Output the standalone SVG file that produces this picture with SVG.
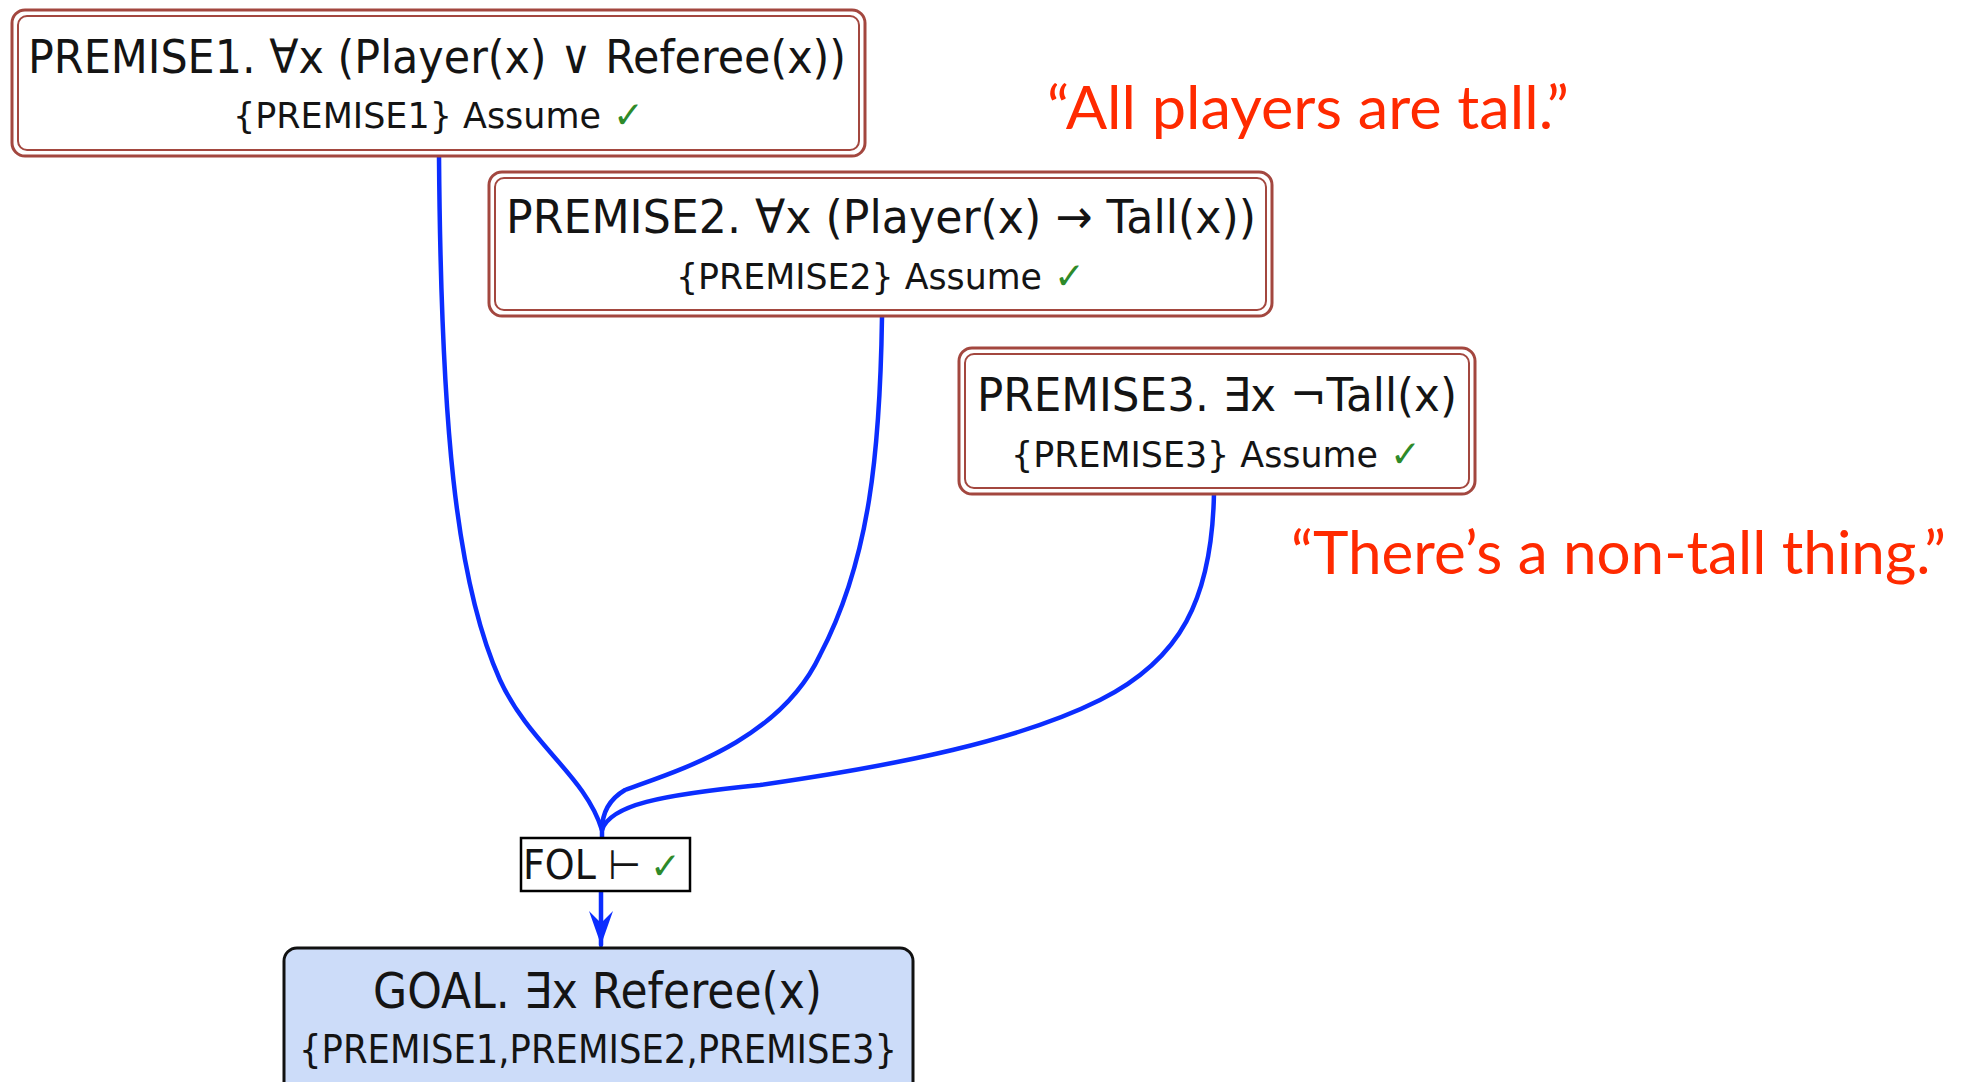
<svg xmlns="http://www.w3.org/2000/svg" width="1971" height="1082" viewBox="0 0 1971 1082">
<style>
.bg{fill:#ffffff}
.pout{fill:#ffffff;stroke:#a3473f;stroke-width:3}
.pin{fill:none;stroke:#a3473f;stroke-width:2}
.t{font-family:"DejaVu Sans","Liberation Sans",sans-serif;fill:#141414}
.tt{font-size:47px}
.ts{font-size:35px}
.ok{font-family:"DejaVu Sans",sans-serif;font-size:37px;fill:#2e8a2a}
.edge{fill:none;stroke:#0b2dff;stroke-width:4.5;stroke-linecap:round}
.quote{font-family:Lato,"Open Sans",sans-serif;font-size:60px;fill:#ff2a00}
.fol{fill:#ffffff;stroke:#000000;stroke-width:2.5}
.goal{fill:#ccdcf9;stroke:#111111;stroke-width:3}
</style>
<defs>
<marker id="arr" markerUnits="userSpaceOnUse" viewBox="-40 -20 44 40" refX="0" refY="0" markerWidth="44" markerHeight="40" orient="auto" overflow="visible">
<path d="M-34,-12 L0,0 L-34,12 L-22,0 Z" fill="#0b2dff"/>
</marker>
</defs>
<rect class="bg" x="0" y="0" width="1971" height="1082"/>

<g id="connectors">
<path class="edge" d="M439,156 C441,420 455,580 500,680 C530,745 585,775 602,830 L602,838"/>
<path class="edge" d="M882,317 C880,450 870,560 820,655 C780,740 680,770 625,790 C608,800 602,815 602,830"/>
<path class="edge" d="M1214,493 C1212,600 1180,660 1100,700 C1020,740 900,765 760,785 C660,795 610,805 602,830"/>
<path class="edge" d="M601,891 L601,945" marker-end="url(#arr)"/>
</g>

<g id="premise1">
<rect class="pout" x="12" y="10" width="853" height="146" rx="13"/>
<rect class="pin" x="18" y="16" width="841" height="134" rx="9"/>
<text class="t tt" x="28" y="73" textLength="818" lengthAdjust="spacingAndGlyphs">PREMISE1. ∀x (Player(x) ∨ Referee(x))</text>
<text class="t ts" x="233" y="128" textLength="368" lengthAdjust="spacingAndGlyphs">{PREMISE1} Assume</text>
<text class="ok" x="613" y="128">✓</text>
</g>

<g id="premise2">
<rect class="pout" x="489" y="172" width="783" height="144" rx="13"/>
<rect class="pin" x="495" y="178" width="771" height="132" rx="9"/>
<text class="t tt" x="506" y="233" textLength="750" lengthAdjust="spacingAndGlyphs">PREMISE2. ∀x (Player(x) → Tall(x))</text>
<text class="t ts" x="676" y="289" textLength="366" lengthAdjust="spacingAndGlyphs">{PREMISE2} Assume</text>
<text class="ok" x="1054" y="289">✓</text>
</g>

<g id="premise3">
<rect class="pout" x="959" y="348" width="516" height="146" rx="13"/>
<rect class="pin" x="965" y="354" width="504" height="134" rx="9"/>
<text class="t tt" x="977" y="411" textLength="480" lengthAdjust="spacingAndGlyphs">PREMISE3. ∃x ¬Tall(x)</text>
<text class="t ts" x="1011" y="467" textLength="367" lengthAdjust="spacingAndGlyphs">{PREMISE3} Assume</text>
<text class="ok" x="1390" y="467">✓</text>
</g>

<g id="quote1">
<text class="quote" x="1047" y="129" textLength="522" lengthAdjust="spacingAndGlyphs">“All players are tall.”</text>
</g>

<g id="quote2">
<text class="quote" x="1291" y="574" textLength="655" lengthAdjust="spacingAndGlyphs">“There’s a non-tall thing.”</text>
</g>

<g id="fol">
<rect class="fol" x="521" y="838" width="169" height="53"/>
<text class="t" x="523" y="879" font-size="41" textLength="118" lengthAdjust="spacingAndGlyphs">FOL ⊢</text>
<text class="ok" x="650" y="879" font-size="40">✓</text>
</g>

<g id="goal">
<rect class="goal" x="284" y="948" width="629" height="160" rx="13"/>
<text class="t" x="373" y="1008" font-size="49" textLength="449" lengthAdjust="spacingAndGlyphs">GOAL. ∃x Referee(x)</text>
<text class="t" x="299" y="1063" font-size="39" textLength="598" lengthAdjust="spacingAndGlyphs">{PREMISE1,PREMISE2,PREMISE3}</text>
</g>
</svg>
